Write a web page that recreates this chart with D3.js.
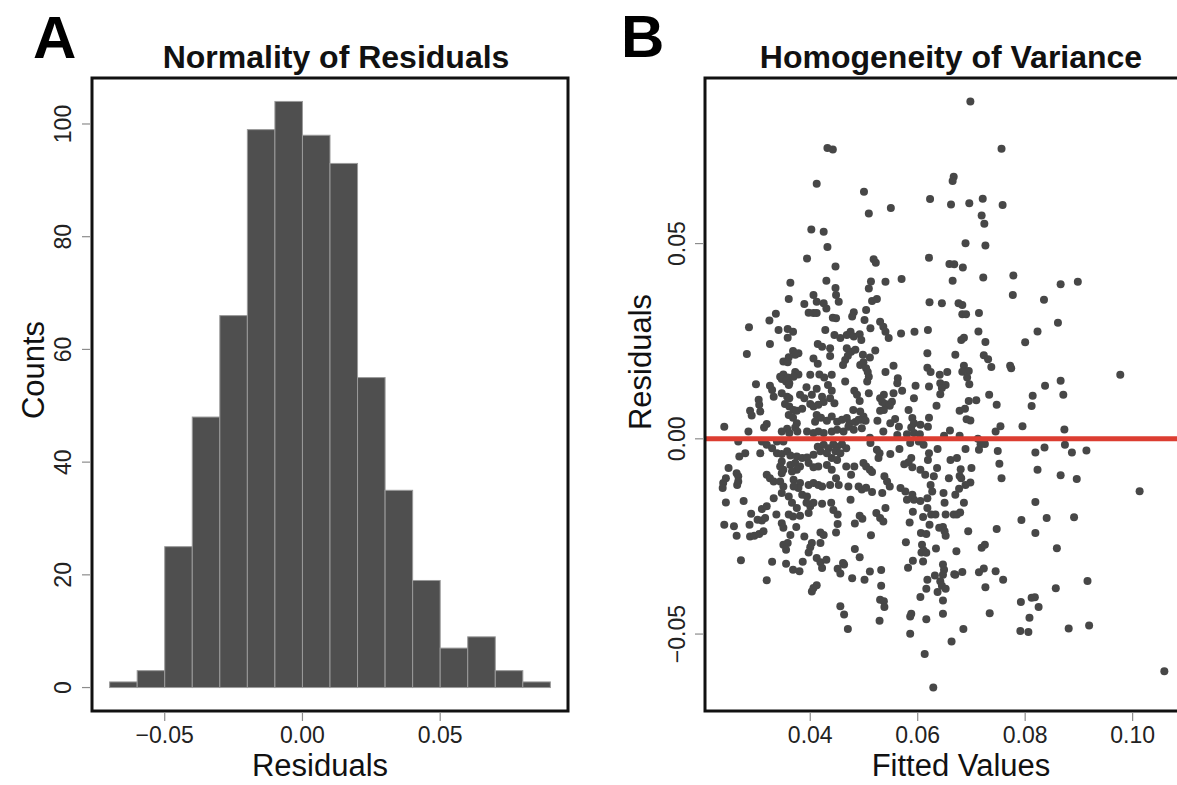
<!DOCTYPE html>
<html>
<head>
<meta charset="utf-8">
<script src="https://cdn.jsdelivr.net/npm/d3@7"></script>
<style>
  html, body { margin: 0; padding: 0; background: #ffffff; }
  svg { display: block; }
  text { font-family: "Liberation Sans", Arial, Helvetica, sans-serif; }
</style>
</head>
<body>
<svg id="chart" width="1177" height="785"></svg>
<script>
// ---------------- DATA ----------------
// Panel A: histogram of residuals
const binStarts = [-0.07, -0.06, -0.05, -0.04, -0.03, -0.02, -0.01, 0.00, 0.01, 0.02, 0.03, 0.04, 0.05, 0.06, 0.07, 0.08];
const binWidth = 0.01;
const counts = [1, 3, 25, 48, 66, 99, 104, 98, 93, 55, 35, 19, 7, 9, 3, 1];
const histXTicks = [-0.05, 0.00, 0.05];
const histYTicks = [0, 20, 40, 60, 80, 100];

// Panel B: residuals vs fitted values
const fitted = [
0.0432,0.0442,0.0412,0.0402,0.0425,0.0432,0.0394,0.0447,0.0363,0.0430,
0.0447,0.0500,0.0509,0.0550,0.0623,0.0667,0.0665,0.0662,0.0518,0.0522,
0.0621,0.0659,0.0668,0.0513,0.0540,0.0570,0.0509,0.0665,0.0698,0.0756,
0.0696,0.0721,0.0758,0.0719,0.0724,0.0689,0.0726,0.0684,0.0722,0.0778,
0.0866,0.0898,0.0777,0.0835,0.0676,0.0683,0.0683,0.0690,0.0714,0.0861,
0.0713,0.0823,0.0681,0.0686,0.0726,0.0800,0.0670,0.0723,0.0731,0.0737,
0.0772,0.0774,0.0686,0.0695,0.0683,0.0692,0.0696,0.0977,0.0837,0.0866,
0.0871,0.0733,0.0814,0.0812,0.0709,0.0695,0.0747,0.0678,0.0688,0.0691,
0.0698,0.0754,0.0745,0.0795,0.0873,0.0678,0.0712,0.0725,0.0717,0.0689,
0.0714,0.0749,0.0819,0.0836,0.0874,0.0887,0.0914,0.0752,0.0700,0.0680,
0.0678,0.0681,0.0823,0.0866,0.0896,0.0756,0.0698,0.0689,0.0677,0.1013,
0.0819,0.0686,0.0670,0.0673,0.0679,0.0793,0.0840,0.0891,0.0694,0.0747,
0.0819,0.0719,0.0725,0.0859,0.0672,0.0670,0.0683,0.0714,0.0723,0.0745,
0.0759,0.0916,0.0726,0.0857,0.0792,0.0812,0.0818,0.0825,0.0734,0.0808,
0.0685,0.0791,0.0806,0.0881,0.0919,0.1059,0.0451,0.0443,0.0439,0.0451,
0.0448,0.0483,0.0492,0.0497,0.0475,0.0523,0.0530,0.0536,0.0540,0.0513,
0.0580,0.0593,0.0591,0.0585,0.0618,0.0610,0.0625,0.0633,0.0650,0.0652,
0.0667,0.0622,0.0640,0.0647,0.0650,0.0652,0.0606,0.0616,0.0578,0.0608,
0.0611,0.0607,0.0616,0.0634,0.0483,0.0492,0.0463,0.0461,0.0451,0.0456,
0.0478,0.0501,0.0511,0.0532,0.0532,0.0591,0.0582,0.0610,0.0647,0.0649,
0.0647,0.0632,0.0618,0.0668,0.0642,0.0645,0.0652,0.0616,0.0637,0.0605,
0.0647,0.0530,0.0537,0.0538,0.0456,0.0463,0.0588,0.0586,0.0647,0.0616,
0.0529,0.0470,0.0586,0.0663,0.0613,0.0629,0.0243,0.0276,0.0290,0.0310,
0.0319,0.0337,0.0302,0.0310,0.0316,0.0240,0.0258,0.0287,0.0263,0.0288,
0.0296,0.0305,0.0313,0.0366,0.0375,0.0360,0.0368,0.0381,0.0397,0.0400,
0.0393,0.0406,0.0422,0.0347,0.0350,0.0374,0.0363,0.0389,0.0419,0.0425,
0.0350,0.0358,0.0355,0.0403,0.0400,0.0397,0.0419,0.0412,0.0419,0.0422,
0.0430,0.0271,0.0329,0.0355,0.0386,0.0368,0.0380,0.0319,0.0412,0.0403,
0.0406,0.0360,0.0406,0.0412,0.0425,0.0430,0.0389,0.0397,0.0406,0.0412,
0.0442,0.0336,0.0324,0.0286,0.0341,0.0358,0.0368,0.0358,0.0428,0.0445,
0.0325,0.0414,0.0422,0.0282,0.0368,0.0378,0.0372,0.0360,0.0350,0.0358,
0.0406,0.0414,0.0437,0.0344,0.0350,0.0358,0.0347,0.0355,0.0361,0.0372,
0.0378,0.0369,0.0400,0.0417,0.0426,0.0440,0.0299,0.0325,0.0329,0.0360,
0.0393,0.0412,0.0433,0.0440,0.0332,0.0347,0.0357,0.0361,0.0381,0.0389,
0.0403,0.0422,0.0437,0.0304,0.0305,0.0353,0.0361,0.0369,0.0375,0.0385,
0.0400,0.0406,0.0415,0.0425,0.0288,0.0291,0.0307,0.0360,0.0368,0.0412,
0.0420,0.0409,0.0431,0.0440,0.0319,0.0314,0.0375,0.0372,0.0240,0.0285,
0.0347,0.0357,0.0361,0.0376,0.0394,0.0406,0.0415,0.0425,0.0440,0.0266,
0.0310,0.0319,0.0329,0.0338,0.0350,0.0414,0.0425,0.0434,0.0443,0.0268,
0.0279,0.0307,0.0338,0.0347,0.0357,0.0363,0.0375,0.0385,0.0394,0.0406,
0.0419,0.0431,0.0440,0.0347,0.0344,0.0350,0.0347,0.0363,0.0372,0.0381,
0.0375,0.0366,0.0397,0.0406,0.0415,0.0431,0.0440,0.0248,0.0263,0.0266,
0.0266,0.0264,0.0243,0.0238,0.0237,0.0319,0.0325,0.0332,0.0344,0.0350,
0.0347,0.0369,0.0381,0.0378,0.0369,0.0397,0.0406,0.0415,0.0422,0.0437,
0.0385,0.0394,0.0332,0.0360,0.0448,0.0453,0.0515,0.0524,0.0622,0.0645,
0.0481,0.0478,0.0504,0.0448,0.0501,0.0530,0.0536,0.0540,0.0546,0.0512,
0.0456,0.0468,0.0475,0.0481,0.0492,0.0495,0.0569,0.0594,0.0619,0.0437,
0.0468,0.0476,0.0484,0.0498,0.0511,0.0618,0.0470,0.0465,0.0521,0.0461,
0.0493,0.0499,0.0504,0.0507,0.0509,0.0506,0.0555,0.0540,0.0618,0.0624,
0.0641,0.0655,0.0563,0.0562,0.0465,0.0642,0.0652,0.0645,0.0642,0.0596,
0.0621,0.0482,0.0487,0.0492,0.0509,0.0555,0.0571,0.0537,0.0530,0.0534,
0.0540,0.0552,0.0548,0.0593,0.0445,0.0635,0.0480,0.0493,0.0499,0.0495,
0.0530,0.0537,0.0583,0.0450,0.0459,0.0468,0.0473,0.0484,0.0490,0.0503,
0.0525,0.0549,0.0558,0.0565,0.0590,0.0593,0.0588,0.0621,0.0605,0.0619,
0.0536,0.0450,0.0462,0.0471,0.0481,0.0496,0.0511,0.0562,0.0580,0.0593,
0.0604,0.0660,0.0649,0.0450,0.0459,0.0467,0.0447,0.0456,0.0512,0.0524,
0.0529,0.0527,0.0549,0.0566,0.0586,0.0602,0.0611,0.0637,0.0621,0.0619,
0.0661,0.0673,0.0450,0.0467,0.0482,0.0499,0.0504,0.0511,0.0515,0.0588,
0.0583,0.0590,0.0575,0.0605,0.0614,0.0636,0.0630,0.0658,0.0476,0.0448,
0.0453,0.0538,0.0543,0.0548,0.0471,0.0490,0.0496,0.0504,0.0515,0.0568,
0.0577,0.0590,0.0627,0.0624,0.0648,0.0534,0.0605,0.0618
];
const residuals = [
0.0745,0.0741,0.0653,0.0536,0.0530,0.0491,0.0462,0.0441,0.0400,0.0405,
0.0386,0.0633,0.0577,0.0591,0.0614,0.0671,0.0660,0.0600,0.0460,0.0451,
0.0464,0.0448,0.0447,0.0403,0.0402,0.0409,0.0385,0.0405,0.0864,0.0743,
0.0603,0.0615,0.0599,0.0572,0.0551,0.0501,0.0495,0.0439,0.0413,0.0418,
0.0396,0.0402,0.0368,0.0356,0.0347,0.0343,0.0319,0.0319,0.0322,0.0297,
0.0275,0.0275,0.0253,0.0259,0.0248,0.0247,0.0215,0.0214,0.0204,0.0184,
0.0187,0.0181,0.0187,0.0174,0.0172,0.0157,0.0140,0.0164,0.0136,0.0149,
0.0113,0.0113,0.0110,0.0084,0.0099,0.0097,0.0087,0.0072,0.0077,0.0050,
0.0047,0.0032,0.0019,0.0032,0.0024,0.0008,0.0000,-0.0013,-0.0014,-0.0026,
-0.0028,-0.0031,-0.0035,-0.0022,-0.0015,-0.0035,-0.0030,-0.0064,-0.0075,-0.0078,
-0.0095,-0.0101,-0.0079,-0.0093,-0.0103,-0.0101,-0.0112,-0.0118,-0.0128,-0.0134,
-0.0162,-0.0164,-0.0143,-0.0194,-0.0189,-0.0208,-0.0203,-0.0201,-0.0237,-0.0231,
-0.0241,-0.0279,-0.0271,-0.0280,-0.0288,-0.0348,-0.0341,-0.0342,-0.0332,-0.0339,
-0.0361,-0.0364,-0.0380,-0.0383,-0.0418,-0.0407,-0.0406,-0.0431,-0.0447,-0.0458,
-0.0487,-0.0492,-0.0495,-0.0486,-0.0478,-0.0595,-0.0194,-0.0182,-0.0164,-0.0218,
-0.0240,-0.0217,-0.0197,-0.0205,-0.0156,-0.0190,-0.0203,-0.0212,-0.0177,-0.0247,
-0.0156,-0.0156,-0.0187,-0.0214,-0.0177,-0.0200,-0.0194,-0.0194,-0.0164,-0.0194,
-0.0194,-0.0220,-0.0228,-0.0226,-0.0237,-0.0248,-0.0241,-0.0244,-0.0265,-0.0271,
-0.0286,-0.0291,-0.0292,-0.0281,-0.0282,-0.0303,-0.0322,-0.0318,-0.0333,-0.0345,
-0.0357,-0.0361,-0.0340,-0.0336,-0.0376,-0.0312,-0.0330,-0.0314,-0.0322,-0.0335,
-0.0348,-0.0350,-0.0361,-0.0347,-0.0365,-0.0376,-0.0384,-0.0384,-0.0392,-0.0405,
-0.0414,-0.0412,-0.0416,-0.0431,-0.0429,-0.0450,-0.0448,-0.0455,-0.0448,-0.0462,
-0.0466,-0.0487,-0.0499,-0.0519,-0.0551,-0.0637,-0.0163,-0.0159,-0.0192,-0.0180,
-0.0173,-0.0194,-0.0207,-0.0209,-0.0203,-0.0220,-0.0224,-0.0220,-0.0248,-0.0250,
-0.0248,-0.0244,-0.0237,-0.0164,-0.0177,-0.0194,-0.0199,-0.0197,-0.0190,-0.0173,
-0.0164,-0.0164,-0.0166,-0.0216,-0.0228,-0.0226,-0.0246,-0.0250,-0.0240,-0.0246,
-0.0271,-0.0267,-0.0284,-0.0267,-0.0278,-0.0291,-0.0267,-0.0305,-0.0316,-0.0331,
-0.0310,-0.0311,-0.0315,-0.0320,-0.0315,-0.0335,-0.0339,-0.0362,-0.0375,-0.0391,
-0.0382,0.0358,0.0368,0.0351,0.0347,0.0334,0.0345,0.0323,0.0322,0.0322,
0.0310,0.0320,0.0303,0.0286,0.0279,0.0281,0.0274,0.0259,0.0279,0.0266,
0.0243,0.0243,0.0236,0.0217,0.0225,0.0219,0.0215,0.0209,0.0198,0.0196,
0.0206,0.0192,0.0212,0.0159,0.0165,0.0157,0.0153,0.0147,0.0142,0.0171,
0.0165,0.0159,0.0164,0.0165,0.0157,0.0164,0.0140,0.0136,0.0125,0.0138,
0.0132,0.0128,0.0138,0.0123,0.0108,0.0117,0.0108,0.0104,0.0113,0.0104,
0.0113,0.0108,0.0104,0.0100,0.0087,0.0089,0.0083,0.0074,0.0072,0.0077,
0.0089,0.0083,0.0087,0.0094,0.0072,0.0060,0.0070,0.0061,0.0054,0.0061,
0.0054,0.0044,0.0046,0.0057,0.0038,0.0029,0.0040,0.0029,0.0031,0.0019,
0.0019,0.0026,0.0015,0.0019,0.0019,0.0015,0.0019,0.0015,0.0019,-0.0007,
-0.0007,-0.0015,-0.0024,-0.0007,-0.0007,-0.0020,-0.0015,-0.0024,-0.0014,-0.0045,
-0.0037,-0.0037,-0.0037,-0.0039,-0.0032,-0.0043,-0.0045,-0.0049,-0.0048,-0.0041,
-0.0032,-0.0037,-0.0049,-0.0058,-0.0071,-0.0079,-0.0088,-0.0067,-0.0062,-0.0071,
-0.0079,-0.0084,-0.0062,-0.0073,-0.0071,-0.0067,-0.0079,-0.0075,-0.0088,-0.0096,
-0.0109,-0.0118,-0.0101,-0.0113,-0.0126,-0.0092,-0.0101,-0.0109,-0.0109,-0.0122,
-0.0139,-0.0105,-0.0113,-0.0126,-0.0122,-0.0118,-0.0113,-0.0118,-0.0122,-0.0118,
-0.0143,-0.0148,-0.0152,-0.0148,0.0368,0.0351,0.0353,0.0358,0.0350,0.0347,
0.0324,0.0313,0.0330,0.0309,0.0304,0.0300,0.0287,0.0274,0.0258,0.0283,
0.0258,0.0266,0.0274,0.0262,0.0268,0.0253,0.0270,0.0274,0.0279,0.0232,
0.0232,0.0223,0.0228,0.0215,0.0208,0.0219,0.0213,0.0202,0.0226,0.0189,
0.0189,0.0196,0.0181,0.0171,0.0159,0.0147,0.0187,0.0171,0.0182,0.0171,
0.0164,0.0171,0.0155,0.0142,0.0147,0.0142,0.0138,0.0130,0.0114,0.0136,
0.0134,0.0123,0.0113,0.0097,0.0117,0.0117,0.0123,0.0113,0.0104,0.0094,
0.0089,0.0095,0.0085,0.0104,0.0091,0.0085,0.0074,0.0070,0.0057,0.0049,
0.0072,0.0074,0.0074,0.0044,0.0049,0.0053,0.0040,0.0043,0.0049,0.0046,
0.0046,0.0040,0.0051,0.0031,0.0053,0.0040,0.0029,0.0054,0.0036,0.0031,
0.0019,0.0023,0.0019,0.0031,0.0023,0.0027,0.0003,0.0010,0.0012,0.0015,
0.0012,0.0021,0.0008,-0.0020,-0.0014,-0.0024,-0.0032,-0.0037,-0.0011,-0.0028,
-0.0037,-0.0049,-0.0039,-0.0026,-0.0011,-0.0007,-0.0015,-0.0026,-0.0037,-0.0054,
-0.0054,-0.0049,-0.0054,-0.0071,-0.0071,-0.0062,-0.0071,-0.0079,-0.0085,-0.0049,
-0.0060,-0.0073,-0.0065,-0.0079,-0.0092,-0.0075,-0.0096,-0.0101,-0.0092,-0.0101,
-0.0118,-0.0096,-0.0109,-0.0122,-0.0122,-0.0122,-0.0130,-0.0125,-0.0136,-0.0126,
-0.0135,-0.0143,-0.0135,-0.0118,-0.0139,-0.0139,-0.0159,-0.0152
];
const scatterXTicks = [0.04, 0.06, 0.08, 0.10];
const scatterYTicks = [-0.05, 0.00, 0.05];

// ---------------- DRAWING ----------------
const svg = d3.select("#chart");
svg.append("rect").attr("width", 1177).attr("height", 785).attr("fill", "#ffffff");

const fmt = v => {
  const s = d3.format(".2f")(Math.abs(v));
  return (v < 0 ? "\u2212" : "") + s;
};
const tickColor = "#8c8c8c";
const labelColor = "#222222";
const tickFont = 23;
const axisTitleFont = 31;
const mainTitleFont = 32;

// ---- Panel A ----
const A = { left: 92, right: 568, top: 78, bottom: 711 };
const binEnd = binStarts[binStarts.length - 1] + binWidth;
const hxPad = (binEnd - binStarts[0]) * 0.04;
const hx = d3.scaleLinear().domain([binStarts[0] - hxPad, binEnd + hxPad]).range([A.left, A.right]);
const hyMax = d3.max(counts);
const hy = d3.scaleLinear().domain([-hyMax * 0.04, hyMax * 1.04]).range([A.bottom, A.top]);

const bins = binStarts.map((s, i) => ({ x0: s, x1: s + binWidth, n: counts[i] }));
svg.append("g").selectAll("rect").data(bins).join("rect")
  .attr("x", d => hx(d.x0))
  .attr("y", d => hy(d.n))
  .attr("width", d => hx(d.x1) - hx(d.x0))
  .attr("height", d => hy(0) - hy(d.n))
  .attr("fill", "#4f4f4f")
  .attr("stroke", "#9a9a9a")
  .attr("stroke-width", 1);

svg.append("rect")
  .attr("x", A.left).attr("y", A.top)
  .attr("width", A.right - A.left).attr("height", A.bottom - A.top)
  .attr("fill", "none").attr("stroke", "#111").attr("stroke-width", 3);

// x ticks
const gAx = svg.append("g");
gAx.selectAll("line").data(histXTicks).join("line")
  .attr("x1", d => hx(d)).attr("x2", d => hx(d))
  .attr("y1", A.bottom + 1.5).attr("y2", A.bottom + 10)
  .attr("stroke", tickColor).attr("stroke-width", 1.2);
gAx.selectAll("text").data(histXTicks).join("text")
  .attr("x", d => hx(d)).attr("y", 743)
  .attr("text-anchor", "middle").attr("font-size", tickFont).attr("fill", labelColor)
  .text(d => fmt(d));

// y ticks
const gAy = svg.append("g");
gAy.selectAll("line").data(histYTicks).join("line")
  .attr("x1", A.left - 1.5).attr("x2", A.left - 10)
  .attr("y1", d => hy(d)).attr("y2", d => hy(d))
  .attr("stroke", tickColor).attr("stroke-width", 1.2);
gAy.selectAll("text").data(histYTicks).join("text")
  .attr("transform", d => `translate(71,${hy(d)}) rotate(-90)`)
  .attr("text-anchor", "middle").attr("font-size", tickFont).attr("fill", labelColor)
  .text(d => d);

svg.append("text").attr("x", 320).attr("y", 776).attr("text-anchor", "middle")
  .attr("font-size", axisTitleFont).attr("fill", "#111").text("Residuals");
svg.append("text").attr("transform", "translate(44,370) rotate(-90)").attr("text-anchor", "middle")
  .attr("font-size", axisTitleFont).attr("fill", "#111").text("Counts");
svg.append("text").attr("x", 336).attr("y", 68).attr("text-anchor", "middle")
  .attr("font-size", mainTitleFont).attr("font-weight", "bold").attr("fill", "#111").text("Normality of Residuals");
svg.append("text").attr("x", 33).attr("y", 58)
  .attr("font-size", 60).attr("font-weight", "bold").attr("fill", "#000").text("A");

// ---- Panel B ----
const B = { left: 705, right: 1182, top: 78, bottom: 711 };
const fx = d3.extent(fitted), ry = d3.extent(residuals);
const sxPad = (fx[1] - fx[0]) * 0.04, syPad = (ry[1] - ry[0]) * 0.04;
const sx = d3.scaleLinear().domain([fx[0] - sxPad, fx[1] + sxPad]).range([B.left, B.right]);
const sy = d3.scaleLinear().domain([ry[0] - syPad, ry[1] + syPad]).range([B.bottom, B.top]);

const pts = fitted.map((f, i) => ({ f, r: residuals[i] }));
svg.append("g").selectAll("circle").data(pts).join("circle")
  .attr("cx", d => sx(d.f)).attr("cy", d => sy(d.r)).attr("r", 4)
  .attr("fill", "#474747");

svg.append("line")
  .attr("x1", B.left).attr("x2", B.right)
  .attr("y1", sy(0)).attr("y2", sy(0))
  .attr("stroke", "#dc3d31").attr("stroke-width", 5);

svg.append("rect")
  .attr("x", B.left).attr("y", B.top)
  .attr("width", B.right - B.left).attr("height", B.bottom - B.top)
  .attr("fill", "none").attr("stroke", "#111").attr("stroke-width", 3);

const gBx = svg.append("g");
gBx.selectAll("line").data(scatterXTicks).join("line")
  .attr("x1", d => sx(d)).attr("x2", d => sx(d))
  .attr("y1", B.bottom + 1.5).attr("y2", B.bottom + 10)
  .attr("stroke", tickColor).attr("stroke-width", 1.2);
gBx.selectAll("text").data(scatterXTicks).join("text")
  .attr("x", d => sx(d)).attr("y", 743)
  .attr("text-anchor", "middle").attr("font-size", tickFont).attr("fill", labelColor)
  .text(d => fmt(d));

const gBy = svg.append("g");
gBy.selectAll("line").data(scatterYTicks).join("line")
  .attr("x1", B.left - 1.5).attr("x2", B.left - 10)
  .attr("y1", d => sy(d)).attr("y2", d => sy(d))
  .attr("stroke", tickColor).attr("stroke-width", 1.2);
gBy.selectAll("text").data(scatterYTicks).join("text")
  .attr("transform", d => `translate(684.5,${sy(d)}) rotate(-90)`)
  .attr("text-anchor", "middle").attr("font-size", tickFont).attr("fill", labelColor)
  .text(d => fmt(d));

svg.append("text").attr("x", 961).attr("y", 776).attr("text-anchor", "middle")
  .attr("font-size", axisTitleFont).attr("fill", "#111").text("Fitted Values");
svg.append("text").attr("transform", "translate(651,362) rotate(-90)").attr("text-anchor", "middle")
  .attr("font-size", axisTitleFont).attr("fill", "#111").text("Residuals");
svg.append("text").attr("x", 951).attr("y", 68).attr("text-anchor", "middle")
  .attr("font-size", mainTitleFont).attr("font-weight", "bold").attr("fill", "#111").text("Homogeneity of Variance");
svg.append("text").attr("x", 621).attr("y", 57)
  .attr("font-size", 60).attr("font-weight", "bold").attr("fill", "#000").text("B");

if (fitted.length !== residuals.length) console.error("length mismatch", fitted.length, residuals.length);
</script>
</body>
</html>
